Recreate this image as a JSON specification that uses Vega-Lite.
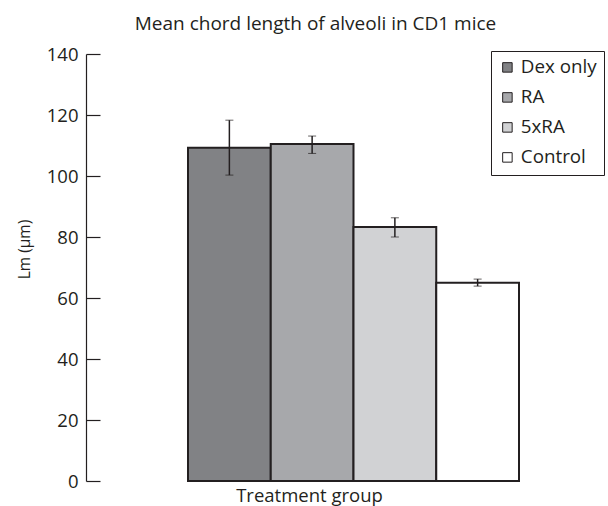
{
  "$schema": "https://vega.github.io/schema/vega-lite/v6.json",
  "width": 521,
  "height": 427,
  "autosize": {"type": "none"},
  "padding": {"left": 86, "top": 54, "right": 1, "bottom": 25},
  "background": "white",
  "config": {
    "font": "Open Sans",
    "view": {"stroke": null},
    "axis": {"grid": false, "domainColor": "#231f20", "tickColor": "#231f20", "labelColor": "#231f20", "titleColor": "#231f20", "labelFont": "Open Sans", "titleFont": "Open Sans", "titleFontWeight": "normal"}
  },
  "title": {
    "text": "Mean chord length of alveoli in CD1 mice",
    "fontSize": 19,
    "fontWeight": "normal",
    "font": "Open Sans",
    "color": "#231f20",
    "anchor": "middle",
    "dx": -31,
    "offset": 11
  },
  "data": {
    "values": [
      {"group": "Dex only", "mean": 109.3, "lo": 100.3, "hi": 118.3},
      {"group": "RA", "mean": 110.5, "lo": 107.4, "hi": 113.1},
      {"group": "5xRA", "mean": 83.3, "lo": 80.0, "hi": 86.3},
      {"group": "Control", "mean": 65.0, "lo": 63.9, "hi": 66.2}
    ]
  },
  "encoding": {
    "x": {
      "field": "group",
      "type": "nominal",
      "sort": ["Dex only", "RA", "5xRA", "Control"],
      "scale": {"paddingInner": 0, "paddingOuter": 0, "range": [102, 433]},
      "axis": {
        "title": "Treatment group",
        "titleFontSize": 18.5,
        "titlePadding": 5,
        "titleX": 223,
        "labels": false,
        "ticks": false,
        "domainWidth": 1.2
      }
    }
  },
  "layer": [
    {
      "mark": {"type": "bar", "stroke": "#231f20", "strokeWidth": 2},
      "encoding": {
        "y": {
          "field": "mean",
          "type": "quantitative",
          "scale": {"domain": [0, 140], "nice": false},
          "axis": {
            "title": "Lm (μm)",
            "titleFontSize": 15.5,
            "titleX": -62,
            "titleY": 195,
            "titleBaseline": "middle",
            "titleAnchor": "middle",
            "values": [0, 20, 40, 60, 80, 100, 120, 140],
            "tickSize": -14,
            "labelPadding": 22,
            "labelFontSize": 18.5,
            "domainWidth": 1.2,
            "tickWidth": 1.2
          }
        },
        "fill": {
          "field": "group",
          "type": "nominal",
          "scale": {
            "domain": ["Dex only", "RA", "5xRA", "Control"],
            "range": ["#818285", "#a7a8ab", "#d1d2d4", "#ffffff"]
          },
          "legend": {
            "title": null,
            "orient": "none",
            "legendX": 405,
            "legendY": -3,
            "strokeColor": "#231f20",
            "fillColor": "white",
            "padding": 7,
            "symbolType": "square",
            "symbolSize": 90,
            "symbolStrokeColor": "#231f20",
            "symbolStrokeWidth": 1,
            "labelFontSize": 18.8,
            "labelColor": "#231f20",
            "labelFont": "Open Sans",
            "rowPadding": 10,
            "labelOffset": 4
          }
        }
      }
    },
    {
      "mark": {"type": "errorbar", "ticks": {"size": 8, "color": "#231f20", "strokeWidth": 1.5}, "rule": {"color": "#231f20", "strokeWidth": 1.5}},
      "encoding": {
        "y": {"field": "lo", "type": "quantitative", "title": "Lm (μm)"},
        "y2": {"field": "hi"}
      }
    }
  ]
}
